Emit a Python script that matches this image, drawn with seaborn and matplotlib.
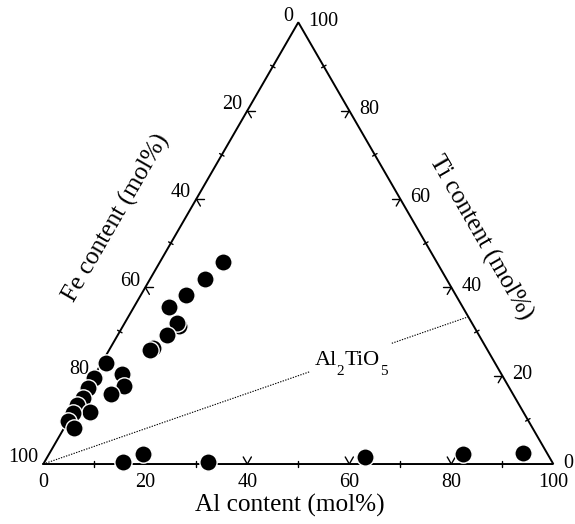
import numpy as np
import pandas as pd
import matplotlib
matplotlib.use("Agg")
import matplotlib.pyplot as plt
import seaborn as sns

# ---- data (mol%) ----
al = [12.4, 10.8, 8.8, 6.8, 11.0, 10.3, 9.6, 8.4, 8.0,
      0.9, 5.2, 7.0, 5.3, 0.2, 0.2, 0.4, 0.0, 3.3, 0.0, 0.0, 2.0,
      15.3, 18.5, 32.1, 62.3, 81.1, 92.8]
ti = [45.8, 41.8, 38.3, 35.6, 31.2, 31.9, 29.2, 26.2, 25.8,
      22.9, 20.3, 17.7, 15.9, 19.5, 17.3, 14.9, 13.4, 11.8, 11.5, 9.7, 8.1,
      0.5, 2.2, 0.5, 1.7, 2.3, 2.6]
fe = [100 - a - t for a, t in zip(al, ti)]

tick_values = [0, 20, 40, 60, 80, 100]
minor_values = [10, 30, 50, 70, 90]
al2tio5 = (200 / 3, 100 / 3)  # (Al, Ti) of Al2TiO5 composition

SQ = np.sqrt(3) / 2


def tern(a, t):
    a = np.asarray(a, float)
    t = np.asarray(t, float)
    return a + t / 2, t * SQ


sns.set_theme(style="white")
plt.rcParams["font.family"] = ["Liberation Serif", "DejaVu Serif"]
plt.rcParams["text.color"] = "black"

fig = plt.figure(figsize=(5.75, 5.24), dpi=100)
ax = fig.add_axes([0, 0, 1, 1])

# triangle frame
cx, cy = tern([0, 100, 0, 0], [0, 0, 100, 0])
ax.plot(cx, cy, color="black", lw=1.4, solid_joinstyle="miter", zorder=2)

# Al2TiO5 join line (broken around the label)
for f0, f1 in ((0.0, 0.628), (0.82, 1.0)):
    lx, ly = tern([f0 * al2tio5[0], f1 * al2tio5[0]], [f0 * al2tio5[1], f1 * al2tio5[1]])
    ax.plot(lx, ly, color="black", lw=0.8, ls=(0, (1.2, 1.2)), zorder=1)
mx, my = tern(0.724 * al2tio5[0], 0.724 * al2tio5[1])
lfs = 16
pieces = [("Al", lfs, -26.4, -5.5), ("2", 11, -10.4, -12.5),
          ("TiO", lfs, -4.9, -5.5), ("5", 11, 20.9, -12.5)]
for s, f, dx, dy in pieces:
    ax.annotate(s, xy=(float(mx), float(my)), xytext=(dx, dy), textcoords="offset points",
                fontsize=f, ha="left", va="baseline")

L = 1.6
deg = np.deg2rad
kw = dict(color="black", lw=1.0, zorder=2)
for v in tick_values[1:-1]:
    x0, y0 = tern(v, 0)
    for ang in (60, 120):
        ax.plot([x0, x0 + L * np.cos(deg(ang))], [y0, y0 + L * np.sin(deg(ang))], **kw)
    x0, y0 = tern(0, 100 - v)
    for ang in (0, -60):
        ax.plot([x0, x0 + L * np.cos(deg(ang))], [y0, y0 + L * np.sin(deg(ang))], **kw)
    x0, y0 = tern(100 - v, v)
    for ang in (180, 240):
        ax.plot([x0, x0 + L * np.cos(deg(ang))], [y0, y0 + L * np.sin(deg(ang))], **kw)

m = 0.5
for v in minor_values:
    x0, y0 = tern(v, 0)
    ax.plot([x0, x0], [y0 - m, y0 + m], **kw)
    x0, y0 = tern(0, 100 - v)
    n = np.array([SQ, -0.5])
    ax.plot([x0 - m * n[0], x0 + m * n[0]], [y0 - m * n[1], y0 + m * n[1]], **kw)
    x0, y0 = tern(100 - v, v)
    n = np.array([-SQ, -0.5])
    ax.plot([x0 - m * n[0], x0 + m * n[0]], [y0 - m * n[1], y0 + m * n[1]], **kw)

# tick labels
fs = 14.5
for v in tick_values:
    x0, y0 = tern(v, 0)
    ax.text(x0, y0 - 3.7, f"{v}", fontsize=fs, ha="center", va="center")
    x0, y0 = tern(0, 100 - v)
    ax.text(x0 - 1.0, y0 + 0.3, f"{v}", fontsize=fs, ha="right", va="baseline")
    x0, y0 = tern(100 - v, v)
    ax.text(x0 + 2.0, y0 + 0.2, f"{v}", fontsize=fs, ha="left", va="center")

# axis titles
tfs = 18.2
ax.text(48.4, -8.2, "Al content (mol%)", fontsize=tfs, ha="center", va="center")
ax.text(14.3, 48.2, "Fe content (mol%)", fontsize=tfs, ha="center", va="center",
        rotation=60, rotation_mode="anchor")
ax.text(85.8, 44.3, "Ti content (mol%)", fontsize=tfs, ha="center", va="center",
        rotation=-60, rotation_mode="anchor")

# data points
px, py = tern(al, ti)
df = pd.DataFrame({"x": px, "y": py, "Al": al, "Ti": ti, "Fe": fe})
sns.scatterplot(data=df, x="x", y="y", ax=ax, color="black", s=155,
                edgecolor="white", linewidth=1.0, zorder=3, legend=False)
ax.set_xlabel("")
ax.set_ylabel("")
ax.set_xlim(-8.49, 104.25)
ax.set_ylim(-11.76, 90.98)
ax.axis("off")

fig.savefig("out.png", dpi=100)
